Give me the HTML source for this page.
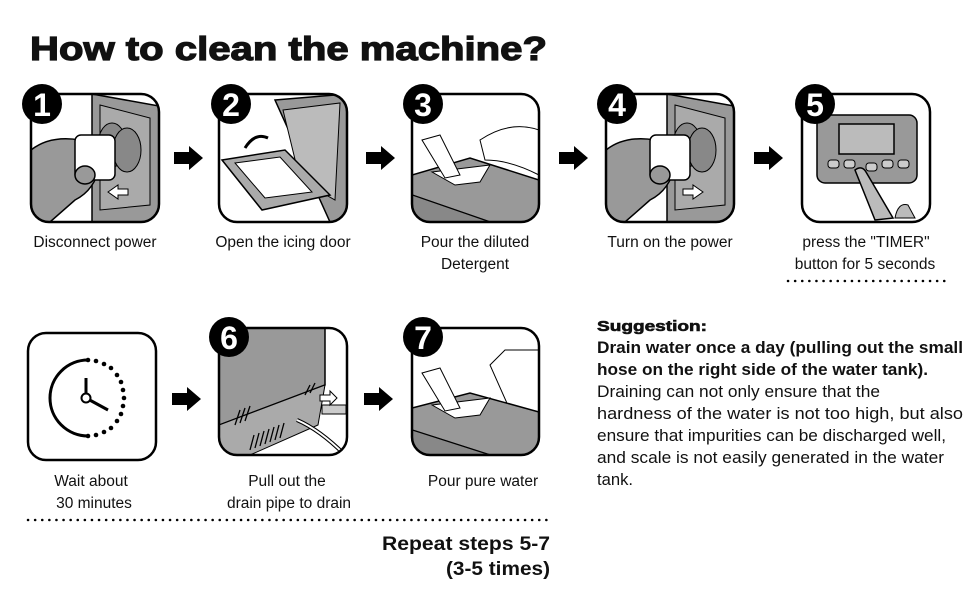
<!DOCTYPE html>
<html><head><meta charset="utf-8"><style>
html,body{margin:0;padding:0;background:#fff;width:970px;height:600px;overflow:hidden}
svg{display:block}
text{font-family:"Liberation Sans",Arial,sans-serif;fill:#111}
</style></head><body>
<svg width="970" height="600" viewBox="0 0 970 600" xmlns="http://www.w3.org/2000/svg">
<defs>
<g id="arr"><polygon points="0,-6 15,-6 15,-12 29,0 15,12 15,6 0,6" fill="#000"/></g>
<clipPath id="c1"><rect x="31" y="94" width="128" height="128" rx="18"/></clipPath>
<clipPath id="c2"><rect x="219" y="94" width="128" height="128" rx="18"/></clipPath>
<clipPath id="c3"><rect x="412" y="94" width="127" height="128" rx="18"/></clipPath>
<clipPath id="c4"><rect x="606" y="94" width="128" height="128" rx="18"/></clipPath>
<clipPath id="c6"><rect x="219" y="328" width="128" height="127" rx="18"/></clipPath>
<clipPath id="c7"><rect x="412" y="328" width="127" height="127" rx="18"/></clipPath>
</defs>
<text x="30" y="60" font-size="33" font-weight="bold" textLength="517" lengthAdjust="spacingAndGlyphs" stroke="#111" stroke-width="1.2">How to clean the machine?</text>

<!-- Panel 1 -->
<g clip-path="url(#c1)">
<rect x="31" y="94" width="128" height="128" fill="#fff"/>
<polygon points="92,94 159,106 159,222 92,222" fill="#999" stroke="#000" stroke-width="1.5"/>
<polygon points="100,105 150,118 150,205 100,210" fill="#aaa" stroke="#000"/>
<ellipse cx="112" cy="145" rx="14" ry="22" fill="#888" stroke="#000"/>
<ellipse cx="127" cy="150" rx="14" ry="22" fill="#888" stroke="#000"/>
<path d="M31,150 Q50,135 80,140 L100,165 Q95,190 75,200 L50,222 L31,222Z" fill="#999" stroke="#000" stroke-width="1.5"/>
<rect x="75" y="135" width="40" height="45" rx="6" fill="#fff" stroke="#000" stroke-width="1.5"/>
<ellipse cx="85" cy="175" rx="10" ry="9" fill="#999" stroke="#000" stroke-width="1.5"/>
<polygon points="108,192 118,185 118,189 128,189 128,195 118,195 118,199" fill="#fff" stroke="#000"/>
</g>
<rect x="31" y="94" width="128" height="128" rx="18" fill="none" stroke="#000" stroke-width="2.5"/>
<circle cx="42" cy="104" r="20" fill="#000"/><text x="42" y="116" font-size="32" font-weight="bold" text-anchor="middle" style="fill:#fff">1</text>

<!-- Panel 2 -->
<g clip-path="url(#c2)">
<rect x="219" y="94" width="128" height="128" fill="#fff"/>
<polygon points="275,100 347,94 347,222 330,222" fill="#999" stroke="#000" stroke-width="1.5"/>
<polygon points="283,110 340,103 335,200 300,180" fill="#bbb" stroke="#000"/>
<polygon points="222,160 285,150 330,195 262,210" fill="#aaa" stroke="#000" stroke-width="1.5"/>
<polygon points="235,163 280,157 312,192 265,198" fill="#fff" stroke="#000"/>
<path d="M245,148 Q255,132 268,138" fill="none" stroke="#000" stroke-width="3"/>
</g>
<rect x="219" y="94" width="128" height="128" rx="18" fill="none" stroke="#000" stroke-width="2.5"/>
<circle cx="231" cy="104" r="20" fill="#000"/><text x="231" y="116" font-size="32" font-weight="bold" text-anchor="middle" style="fill:#fff">2</text>

<!-- Panel 3 -->
<g clip-path="url(#c3)">
<rect x="412" y="94" width="127" height="128" fill="#fff"/>
<path d="M480,140 Q510,120 539,130 L539,175 Q510,160 485,160Z" fill="#fff" stroke="#000"/>
<polygon points="412,175 470,158 539,180 539,222 490,222 412,195" fill="#999" stroke="#000" stroke-width="1.5"/>
<polygon points="412,195 490,222 412,222" fill="#888" stroke="#000"/>
<polygon points="432,172 490,165 480,182 455,185" fill="#fff" stroke="#000"/>
<polygon points="422,140 440,135 460,175 445,178" fill="#fff" stroke="#000"/>
</g>
<rect x="412" y="94" width="127" height="128" rx="18" fill="none" stroke="#000" stroke-width="2.5"/>
<circle cx="423" cy="104" r="20" fill="#000"/><text x="423" y="116" font-size="32" font-weight="bold" text-anchor="middle" style="fill:#fff">3</text>

<!-- Panel 4 -->
<g clip-path="url(#c4)">
<rect x="606" y="94" width="128" height="128" fill="#fff"/>
<polygon points="667,94 734,106 734,222 667,222" fill="#999" stroke="#000" stroke-width="1.5"/>
<polygon points="675,105 725,118 725,205 675,210" fill="#aaa" stroke="#000"/>
<ellipse cx="687" cy="145" rx="14" ry="22" fill="#888" stroke="#000"/>
<ellipse cx="702" cy="150" rx="14" ry="22" fill="#888" stroke="#000"/>
<path d="M606,150 Q625,135 655,140 L675,165 Q670,190 650,200 L625,222 L606,222Z" fill="#999" stroke="#000" stroke-width="1.5"/>
<rect x="650" y="135" width="40" height="45" rx="6" fill="#fff" stroke="#000" stroke-width="1.5"/>
<ellipse cx="660" cy="175" rx="10" ry="9" fill="#999" stroke="#000" stroke-width="1.5"/>
<polygon points="703,192 693,185 693,189 683,189 683,195 693,195 693,199" fill="#fff" stroke="#000"/>
</g>
<rect x="606" y="94" width="128" height="128" rx="18" fill="none" stroke="#000" stroke-width="2.5"/>
<circle cx="617" cy="104" r="20" fill="#000"/><text x="617" y="116" font-size="32" font-weight="bold" text-anchor="middle" style="fill:#fff">4</text>

<!-- Panel 5 -->
<rect x="802" y="94" width="128" height="128" rx="18" fill="#fff" stroke="#000" stroke-width="2.5"/>
<rect x="817" y="115" width="100" height="68" rx="8" fill="#999" stroke="#000" stroke-width="1.5"/>
<rect x="839" y="124" width="55" height="30" fill="#bbb" stroke="#000" stroke-width="1.5"/>
<g fill="#ccc" stroke="#000"><rect x="828" y="160" width="11" height="8" rx="3"/><rect x="844" y="160" width="11" height="8" rx="3"/><rect x="866" y="163" width="11" height="8" rx="3"/><rect x="882" y="160" width="11" height="8" rx="3"/><rect x="898" y="160" width="11" height="8" rx="3"/></g>
<path d="M855,170 Q862,165 866,172 L893,218 L875,220Z" fill="#bbb" stroke="#000" stroke-width="1.5"/>
<path d="M895,218 Q898,202 908,205 L915,218Z" fill="#bbb" stroke="#000"/>
<circle cx="815" cy="104" r="20" fill="#000"/><text x="815" y="116" font-size="32" font-weight="bold" text-anchor="middle" style="fill:#fff">5</text>

<!-- arrows row1 -->
<use href="#arr" x="174" y="158"/><use href="#arr" x="366" y="158"/><use href="#arr" x="559" y="158"/><use href="#arr" x="754" y="158"/>

<!-- captions row1 -->
<g font-size="15.5" text-anchor="middle">
<text x="95" y="247">Disconnect power</text>
<text x="283" y="247">Open the icing door</text>
<text x="475" y="247">Pour the diluted</text>
<text x="475" y="269">Detergent</text>
<text x="670" y="247">Turn on the power</text>
<text x="866" y="247">press the "TIMER"</text>
<text x="865" y="269">button for 5 seconds</text>
</g>
<line x1="788" y1="281" x2="945" y2="281" stroke="#000" stroke-width="2.5" stroke-dasharray="0.1 7" stroke-linecap="round"/>

<!-- Clock -->
<rect x="28" y="333" width="128" height="127" rx="18" fill="#fff" stroke="#000" stroke-width="2.5"/>
<path d="M88,360 A38,38 0 0,0 88,436" fill="none" stroke="#000" stroke-width="3"/>
<g fill="#000"><circle cx="88" cy="360" r="2.3"/><circle cx="96" cy="361" r="2.3"/><circle cx="104" cy="364" r="2.3"/><circle cx="111" cy="368" r="2.3"/><circle cx="117" cy="375" r="2.3"/><circle cx="121" cy="382" r="2.3"/><circle cx="123" cy="390" r="2.3"/><circle cx="124" cy="398" r="2.3"/><circle cx="123" cy="406" r="2.3"/><circle cx="121" cy="414" r="2.3"/><circle cx="117" cy="421" r="2.3"/><circle cx="111" cy="428" r="2.3"/><circle cx="104" cy="432" r="2.3"/><circle cx="96" cy="435" r="2.3"/><circle cx="88" cy="436" r="2.3"/></g>
<line x1="86" y1="398" x2="86" y2="378" stroke="#000" stroke-width="3"/>
<line x1="86" y1="398" x2="108" y2="410" stroke="#000" stroke-width="3"/>
<circle cx="86" cy="398" r="4.5" fill="#fff" stroke="#000" stroke-width="2"/>

<!-- Panel 6 -->
<g clip-path="url(#c6)">
<rect x="219" y="328" width="128" height="127" fill="#fff"/>
<polygon points="219,328 325,328 325,385 219,425" fill="#999" stroke="#000" stroke-width="1.5"/>
<polygon points="219,425 325,385 318,425 250,455 219,455" fill="#aaa" stroke="#000"/>
<g stroke="#000" stroke-width="1.3">
<line x1="235" y1="425" x2="240" y2="410"/><line x1="240" y1="423" x2="245" y2="408"/><line x1="245" y1="421" x2="250" y2="406"/>
<line x1="250" y1="450" x2="254" y2="435"/><line x1="255" y1="448" x2="259" y2="433"/><line x1="260" y1="446" x2="264" y2="431"/><line x1="265" y1="444" x2="269" y2="429"/><line x1="270" y1="442" x2="274" y2="427"/><line x1="275" y1="440" x2="279" y2="425"/><line x1="280" y1="438" x2="284" y2="423"/>
<line x1="305" y1="395" x2="310" y2="385"/><line x1="310" y1="393" x2="315" y2="383"/>
</g>
<path d="M297,420 Q320,430 345,455" fill="none" stroke="#000" stroke-width="4"/>
<path d="M297,420 Q320,430 345,455" fill="none" stroke="#fff" stroke-width="2"/>
<rect x="322" y="405" width="24" height="9" fill="#ccc" stroke="#000"/>
<polygon points="320,395 330,395 330,391 337,398 330,405 330,401 320,401" fill="#fff" stroke="#000"/>
</g>
<rect x="219" y="328" width="128" height="127" rx="18" fill="none" stroke="#000" stroke-width="2.5"/>
<circle cx="229" cy="337" r="20" fill="#000"/><text x="229" y="349" font-size="32" font-weight="bold" text-anchor="middle" style="fill:#fff">6</text>

<!-- Panel 7 -->
<g clip-path="url(#c7)">
<rect x="412" y="328" width="127" height="127" fill="#fff"/>
<polygon points="490,365 505,350 539,350 539,420 510,410" fill="#fff" stroke="#000"/>
<polygon points="412,408 470,393 539,412 539,455 490,455 412,430" fill="#999" stroke="#000" stroke-width="1.5"/>
<polygon points="412,430 490,455 412,455" fill="#888" stroke="#000"/>
<polygon points="432,405 490,398 480,415 455,418" fill="#fff" stroke="#000"/>
<polygon points="422,373 440,368 460,408 445,411" fill="#fff" stroke="#000"/>
</g>
<rect x="412" y="328" width="127" height="127" rx="18" fill="none" stroke="#000" stroke-width="2.5"/>
<circle cx="423" cy="337" r="20" fill="#000"/><text x="423" y="349" font-size="32" font-weight="bold" text-anchor="middle" style="fill:#fff">7</text>

<use href="#arr" x="172" y="399"/><use href="#arr" x="364" y="399"/>

<g font-size="15.5" text-anchor="middle">
<text x="91" y="486">Wait about</text>
<text x="94" y="508">30 minutes</text>
<text x="287" y="486">Pull out the</text>
<text x="289" y="508">drain pipe to drain</text>
<text x="483" y="486">Pour pure water</text>
</g>
<line x1="28" y1="520" x2="550" y2="520" stroke="#000" stroke-width="2.5" stroke-dasharray="0.1 7" stroke-linecap="round"/>
<text x="382" y="550" font-size="19" font-weight="bold" textLength="168" lengthAdjust="spacingAndGlyphs">Repeat steps 5-7</text>
<text x="446" y="575" font-size="19" font-weight="bold" textLength="104" lengthAdjust="spacingAndGlyphs">(3-5 times)</text>

<text x="597" y="331" font-size="15" font-weight="bold" textLength="110" lengthAdjust="spacingAndGlyphs" stroke="#111" stroke-width="0.6">Suggestion:</text>
<g font-size="16.5">
<text x="597" y="353" font-weight="bold" textLength="366" lengthAdjust="spacingAndGlyphs">Drain water once a day (pulling out the small</text>
<text x="597" y="375" font-weight="bold" textLength="331" lengthAdjust="spacingAndGlyphs">hose on the right side of the water tank).</text>
<text x="597" y="397" textLength="283" lengthAdjust="spacingAndGlyphs">Draining can not only ensure that the</text>
<text x="597" y="419" textLength="366" lengthAdjust="spacingAndGlyphs">hardness of the water is not too high, but also</text>
<text x="597" y="441" textLength="349" lengthAdjust="spacingAndGlyphs">ensure that impurities can be discharged well,</text>
<text x="597" y="463" textLength="347" lengthAdjust="spacingAndGlyphs">and scale is not easily generated in the water</text>
<text x="597" y="485" textLength="36" lengthAdjust="spacingAndGlyphs">tank.</text>
</g>
</svg>
</body></html>
